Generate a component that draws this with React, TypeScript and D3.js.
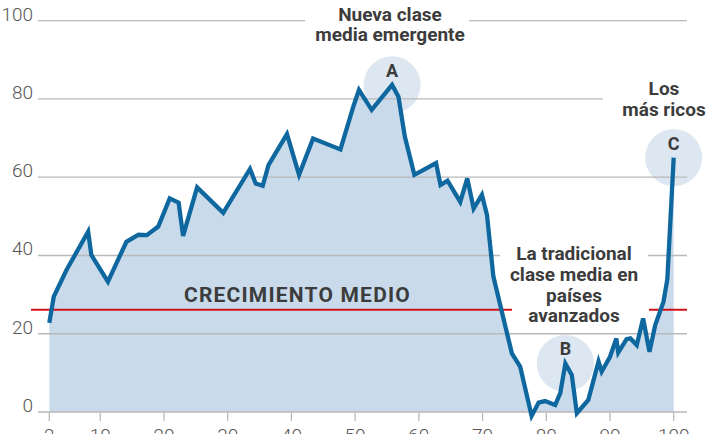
import * as React from "react";
import { area, line, scaleLinear, curveLinear } from "d3";

// percentil de la distribución mundial de ingresos (eje x)
const percentiles = [
  2, 2.7, 4.7, 8.1, 8.6, 11.2, 14.1, 16, 17.3, 19.1, 20.9, 22.3, 23, 25.2,
  29.3, 33.5, 34.4, 35.5, 36.4, 39.3, 41.2, 43.4, 47.7, 49.7, 50.6, 52.6,
  55.8, 56.8, 57.8, 59.3, 62.7, 63.4, 64.5, 66.5, 67.6, 68.6, 69.9, 70.7,
  71.7, 74.6, 75.9, 77.7, 78.8, 79.8, 81.4, 82.2, 83, 84, 84.8, 86.6, 88.2,
  88.7, 90, 91, 91.3, 92.6, 93.2, 94.2, 95.2, 96.2, 97.1, 98.4, 99, 100,
];

// crecimiento de la renta real (%)
const growth = [
  22.8, 29.5, 36.3, 46.1, 40.1, 33.3, 43.5, 45.3, 45.2, 47.4, 54.6, 53.5, 45,
  57.4, 50.9, 62.1, 58.4, 57.8, 63.1, 71, 60.6, 69.9, 67.1, 78, 82.3, 77.2,
  83.6, 80.6, 70.4, 60.6, 63.6, 58, 59.1, 53.7, 59.7, 52, 55.5, 50.3, 34.6,
  15, 11.6, -1, 2.4, 2.8, 1.8, 4.8, 12.4, 9.5, -0.3, 3.1, 12.9, 10.3, 14.1,
  18.8, 15.2, 18.6, 18.8, 17.1, 23.9, 15.4, 22.2, 28.2, 33.9, 65,
];

const yTicks = [0, 20, 40, 60, 80, 100];
const xTicks = [2, 10, 20, 30, 40, 50, 60, 70, 80, 90, 100];
const averageGrowth = 26.1;

const markers = [
  { letter: "A", x: 55.8, y: 83.6 },
  { letter: "B", x: 83, y: 12.4 },
  { letter: "C", x: 100, y: 65 },
];

const W = 710;
const H = 434;

const BLUE = "#0f679f";
const FILL = "#c9dbeb";
const GRID = "#b9b9b9";
const TEXT = "#3c3c3c";

const x = scaleLinear().domain([2, 100]).range([49.3, 673.7]);
const y = scaleLinear().domain([0, 100]).range([412, 20.7]);

// gaps in the gridlines where the labels sit
const gridSegments: Record<number, [number, number][]> = {
  0: [[38, 687]],
  20: [[38, 687]],
  40: [
    [38, 500],
    [648, 687],
  ],
  60: [[38, 687]],
  80: [[38, 603]],
  100: [
    [38, 305],
    [469, 687],
  ],
};

const pts = percentiles.map((p, i) => [p, growth[i]] as [number, number]);

const App = () => {
  const areaPath = area<[number, number]>()
    .x((d) => x(d[0]))
    .y0(y(0))
    .y1((d) => y(d[1]))
    .curve(curveLinear)(pts);
  const linePath = line<[number, number]>()
    .x((d) => x(d[0]))
    .y((d) => y(d[1]))(pts);

  const boldText = {
    fontFamily: "Roboto, 'Liberation Sans', sans-serif",
    fontWeight: 700,
    fill: TEXT,
  } as React.CSSProperties;

  return (
    <svg
      width={W}
      height={H}
      style={{ position: "absolute", left: 0, top: 0, background: "#fff" }}
    >
      {markers.map((m) => (
        <circle key={m.letter} cx={x(m.x)} cy={y(m.y)} r={28.5} fill="#dde7f1" />
      ))}

      <path d={areaPath || ""} fill={FILL} />

      {yTicks.map((t) =>
        gridSegments[t].map((s, i) => (
          <line
            key={`${t}-${i}`}
            x1={s[0]}
            x2={s[1]}
            y1={y(t)}
            y2={y(t)}
            stroke={GRID}
            strokeWidth={1.3}
          />
        )),
      )}

      {yTicks.map((t) => (
        <text
          key={t}
          x={33}
          y={y(t)}
          textAnchor="end"
          fontFamily="Roboto, sans-serif"
          fontWeight={300}
          fontSize={19}
          fill="#555"
        >
          {t}
        </text>
      ))}

      {xTicks.map((t) => (
        <g key={t}>
          <line x1={x(t)} x2={x(t)} y1={413} y2={421} stroke={GRID} strokeWidth={1.3} />
          <text
            x={x(t)}
            y={442}
            textAnchor="middle"
            fontFamily="Roboto, sans-serif"
            fontWeight={300}
            fontSize={19}
            fill="#555"
          >
            {t}
          </text>
        </g>
      ))}

      <line x1={31} x2={512} y1={y(averageGrowth)} y2={y(averageGrowth)} stroke="#d0121b" strokeWidth={2} />
      <line x1={649} x2={687} y1={y(averageGrowth)} y2={y(averageGrowth)} stroke="#d0121b" strokeWidth={2} />

      <path d={linePath || ""} fill="none" stroke={BLUE} strokeWidth={4.3} strokeLinejoin="miter" />

      {markers.map((m) => (
        <text
          key={m.letter}
          x={x(m.x)}
          y={y(m.y) - 8}
          textAnchor="middle"
          fontSize={18}
          style={boldText}
        >
          {m.letter}
        </text>
      ))}

      <text x={297.5} y={302} fontSize={21} letterSpacing={1.2} textAnchor="middle" style={boldText}>
        CRECIMIENTO MEDIO
      </text>

      <text textAnchor="middle" fontSize={19} style={boldText}>
        <tspan x={390} y={21}>Nueva clase</tspan>
        <tspan x={390} y={40.5}>media emergente</tspan>
      </text>

      <text textAnchor="middle" fontSize={19} style={boldText}>
        <tspan x={664} y={95}>Los</tspan>
        <tspan x={664} y={116}>más ricos</tspan>
      </text>

      <text textAnchor="middle" fontSize={19} style={boldText}>
        <tspan x={574} y={259.5}>La tradicional</tspan>
        <tspan x={574} y={280.7}>clase media en</tspan>
        <tspan x={574} y={301.5}>países</tspan>
        <tspan x={574} y={322}>avanzados</tspan>
      </text>
    </svg>
  );
};

export default App;
